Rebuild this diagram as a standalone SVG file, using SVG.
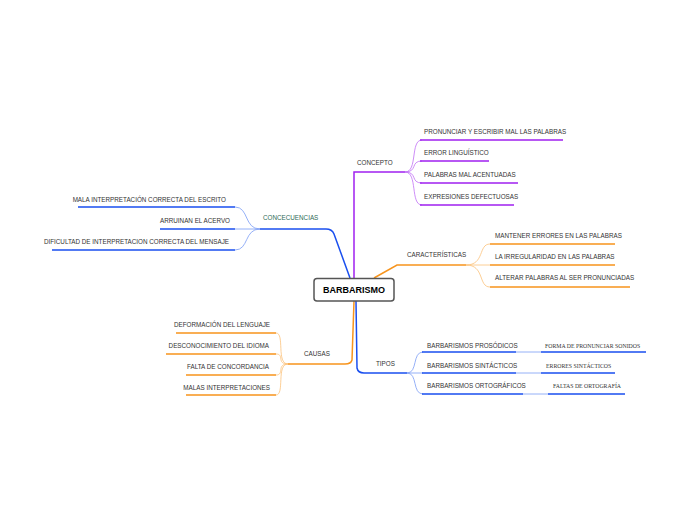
<svg xmlns="http://www.w3.org/2000/svg" width="697" height="520" viewBox="0 0 697 520">
<style>
text{font-family:"Liberation Sans",Arial,sans-serif;font-size:6.3px;fill:#333}
.r{text-anchor:end}
.s{font-family:"Liberation Serif","Times New Roman",serif;font-size:5.8px}
.p{stroke:#a020f0;fill:none;stroke-width:1.5}
.pt{stroke:#c070f5;fill:none;stroke-width:0.8}
.o{stroke:#f7941d;fill:none;stroke-width:1.5}
.ot{stroke:#fbc27a;fill:none;stroke-width:0.8}
.b{stroke:#1a4fef;fill:none;stroke-width:1.5}
.bt{stroke:#7a9cf5;fill:none;stroke-width:0.8}
</style>
<rect width="697" height="520" fill="#fff"/>
<g id="connectors">
<path class="p" d="M354,278 V172 H405"/>
<path class="pt" d="M405,172 C418,172 410,140 422,140 M405,172 C418,172 410,161 422,161 M405,172 C418,172 410,183 422,183 M405,172 C418,172 410,205 422,205"/>
<path class="p" d="M420,140 H563 M420,161 H489 M420,183 H518 M420,205 H514"/>
<path class="o" d="M374,278 L397,265 H466"/>
<path class="ot" d="M466,265 C485,265 478,244 490,244 M466,265 H490 M466,265 C485,265 478,287 490,287"/>
<path class="o" d="M490,244 H615 M490,265 H615 M490,287 H630"/>
<path class="b" d="M350,278 L334,234 Q332,229 326,229 H260"/>
<path class="bt" d="M260,229 C244,229 249,207 235,207 M260,229 H235 M260,229 C244,229 249,250 235,250"/>
<path class="b" d="M235,207 H78 M235,229 H160 M235,250 H52"/>
<path class="o" d="M354,301 L352,360 Q351,364 345,364 H288"/>
<path class="ot" d="M288,364 C276,364 285,333 276,333 M288,364 C276,364 285,354 276,354 M288,364 C276,364 285,375 276,375 M288,364 C276,364 285,395 276,395"/>
<path class="o" d="M276,333 H176 M276,354 H166 M276,375 H186 M276,395 H186"/>
<path class="b" d="M356,301 L357,368 Q358,373 364,373 H407"/>
<path class="bt" d="M407,373 C418,373 412,352 423,352 M407,373 H423 M407,373 C418,373 412,394 423,394"/>
<path class="b" d="M422,352 H516 M422,373 H516 M422,394 H523"/>
<path class="bt" d="M516,352 H541 M516,373 H541 M523,394 H548" stroke="#b7c8f8"/>
<path class="b" d="M541,352 H646 M541,373 H615 M548,394 H625"/>
</g>
<g id="central"><rect x="314" y="278.5" width="80" height="22.5" rx="3" fill="#fff" stroke="#555" stroke-width="1.5"/><text x="354" y="293" text-anchor="middle" style="font-size:9px;font-weight:bold;fill:#000">BARBARISMO</text></g>
<g id="concepto"><text x="357" y="165">CONCEPTO</text>
<text x="424" y="134">PRONUNCIAR Y ESCRIBIR MAL LAS PALABRAS</text>
<text x="424" y="155">ERROR LINGUÍSTICO</text>
<text x="424" y="177">PALABRAS MAL ACENTUADAS</text>
<text x="424" y="199">EXPRESIONES DEFECTUOSAS</text></g>
<g id="caracteristicas"><text x="407" y="257">CARACTERÍSTICAS</text>
<text x="495" y="238">MANTENER ERRORES EN LAS PALABRAS</text>
<text x="495" y="259">LA IRREGULARIDAD EN LAS PALABRAS</text>
<text x="495" y="280">ALTERAR PALABRAS AL SER PRONUNCIADAS</text></g>
<g id="concecuencias"><text x="263" y="220" style="fill:#2e6b57">CONCECUENCIAS</text>
<text class="r" x="226" y="202">MALA INTERPRETACIÓN CORRECTA DEL ESCRITO</text>
<text class="r" x="230" y="223">ARRUINAN EL ACERVO</text>
<text class="r" x="229" y="244">DIFICULTAD DE INTERPRETACION CORRECTA DEL MENSAJE</text></g>
<g id="causas"><text x="304" y="356">CAUSAS</text>
<text class="r" x="270" y="327">DEFORMACIÓN DEL LENGUAJE</text>
<text class="r" x="269" y="348">DESCONOCIMIENTO DEL IDIOMA</text>
<text class="r" x="269" y="369">FALTA DE CONCORDANCIA</text>
<text class="r" x="270" y="390">MALAS INTERPRETACIONES</text></g>
<g id="tipos"><text x="376" y="366">TIPOS</text>
<text x="427" y="348">BARBARISMOS PROSÓDICOS</text>
<text x="427" y="368">BARBARISMOS SINTÁCTICOS</text>
<text x="427" y="388">BARBARISMOS ORTOGRÁFICOS</text>
<text class="s" x="545" y="348">FORMA DE PRONUNCIAR SONIDOS</text>
<text class="s" x="546" y="368">ERRORES SINTÁCTICOS</text>
<text class="s" x="553" y="388">FALTAS DE ORTOGRAFÍA</text></g>
</svg>
